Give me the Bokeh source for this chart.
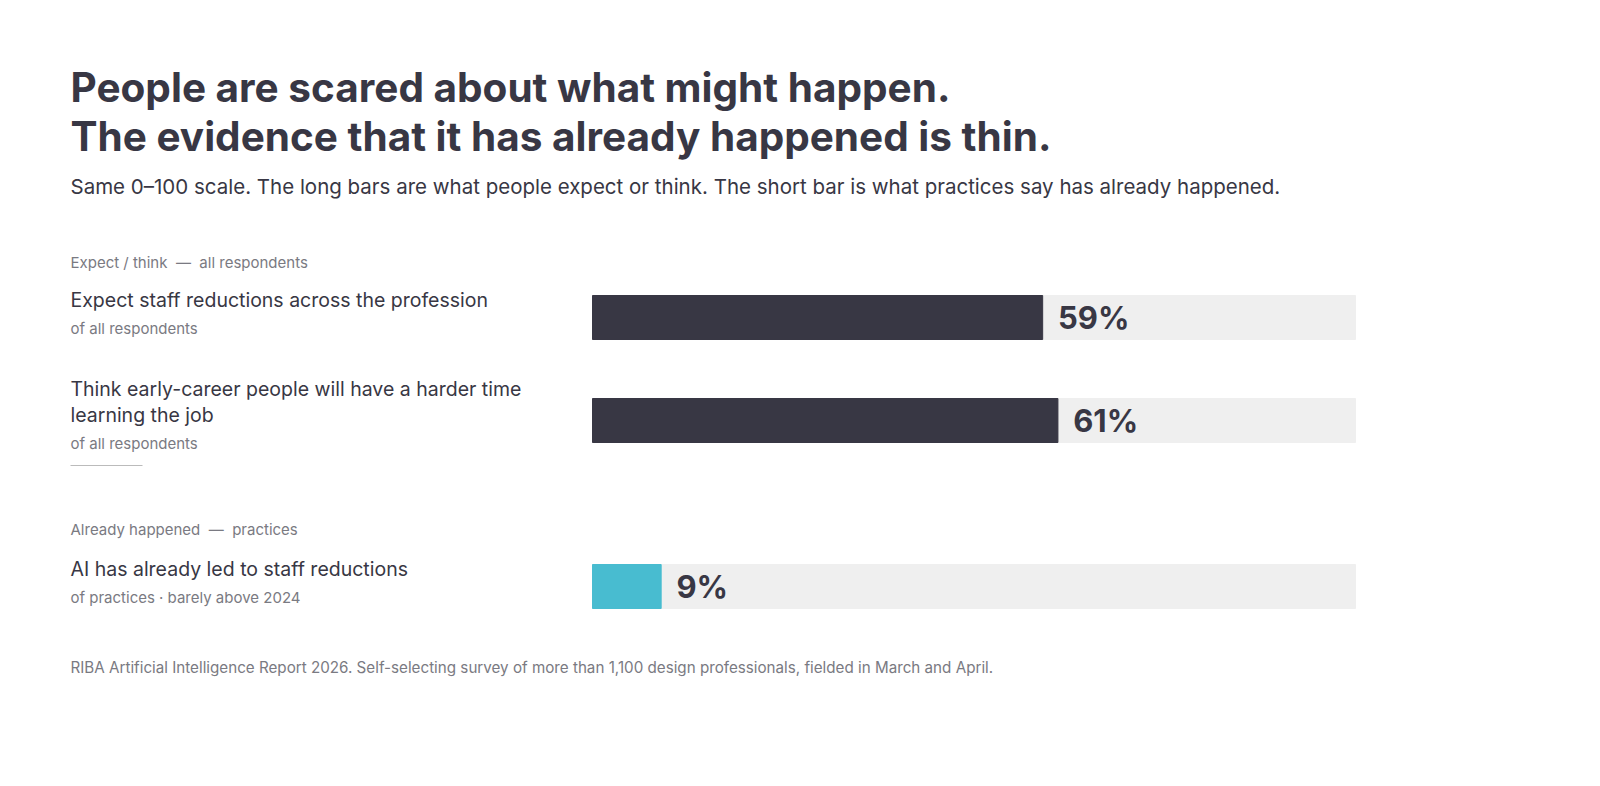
from bokeh.plotting import figure
from bokeh.models import Range1d
from bokeh.core.properties import value
from bokeh.embed import file_html
from bokeh.resources import INLINE

labels = ["Expect staff reductions across the profession",
          "Think early-career people will have a harder time\nlearning the job",
          "AI has already led to staff reductions"]
sublabels = ["of all respondents", "of all respondents", "of practices · barely above 2024"]
values = [59, 61, 9]
colors = ["#383744", "#383744", "#48bcd0"]
sections = ["Expect / think \u00a0\u2014\u00a0 all respondents", "Already happened \u00a0\u2014\u00a0 practices"]

W, H = 1570, 760
S = 7.63  # px per percent
X0 = 592  # bar start px (figure coords)
def v(px):
    return (px - X0) / S

p = figure(width=W, height=H, output_backend="svg", toolbar_location=None,
           x_range=Range1d(v(0), v(W)), y_range=Range1d(H, 0),
           min_border=0, outline_line_color=None)
p.axis.visible = False
p.grid.visible = False
F = value("Inter")
dark = "#383744"
gray = "#7a7a82"

def t(px, y, s, size, color=dark, bold=False):
    p.text(x=[v(px)], y=[y], text=[s], text_font=F, text_font_size=size,
           text_color=color, text_baseline="middle",
           text_font_style="bold" if bold else "normal")

t(70, 87, "People are scared about what might happen.", "40.5px", bold=True)
t(70, 136, "The evidence that it has already happened is thin.", "40.5px", bold=True)
t(70, 186, "Same 0–100 scale. The long bars are what people expect or think. The short bar is what practices say has already happened.", "20.5px")
t(70, 262, sections[0], "15px", gray)
t(70, 529, sections[1], "15px", gray)

ys = [317, 420, 586]
label_y = [299, 388, 568]
sub_y = [328, 443, 597]
for i in range(3):
    lines = labels[i].split("\n")
    for j, ln in enumerate(lines):
        t(70, label_y[i] + 26 * j, ln, "19.5px")
    t(70, sub_y[i], sublabels[i], "15px", gray)

p.hbar(y=ys, left=0, right=100, height=44, color="#efefef")
p.hbar(y=ys, left=0, right=values, height=44, color=colors)
p.text(x=[vv + 2 for vv in values], y=ys, text=[f"{vv}%" for vv in values],
       text_font=F, text_font_size="31px", text_font_style="bold",
       text_color=dark, text_baseline="middle")

p.line(x=[v(70), v(142)], y=[465, 465], line_color="#bbbbbb", line_width=1)
t(70, 667, "RIBA Artificial Intelligence Report 2026. Self-selecting survey of more than 1,100 design professionals, fielded in March and April.", "15.2px", gray)

open("out.html", "w").write(file_html(p, INLINE))
